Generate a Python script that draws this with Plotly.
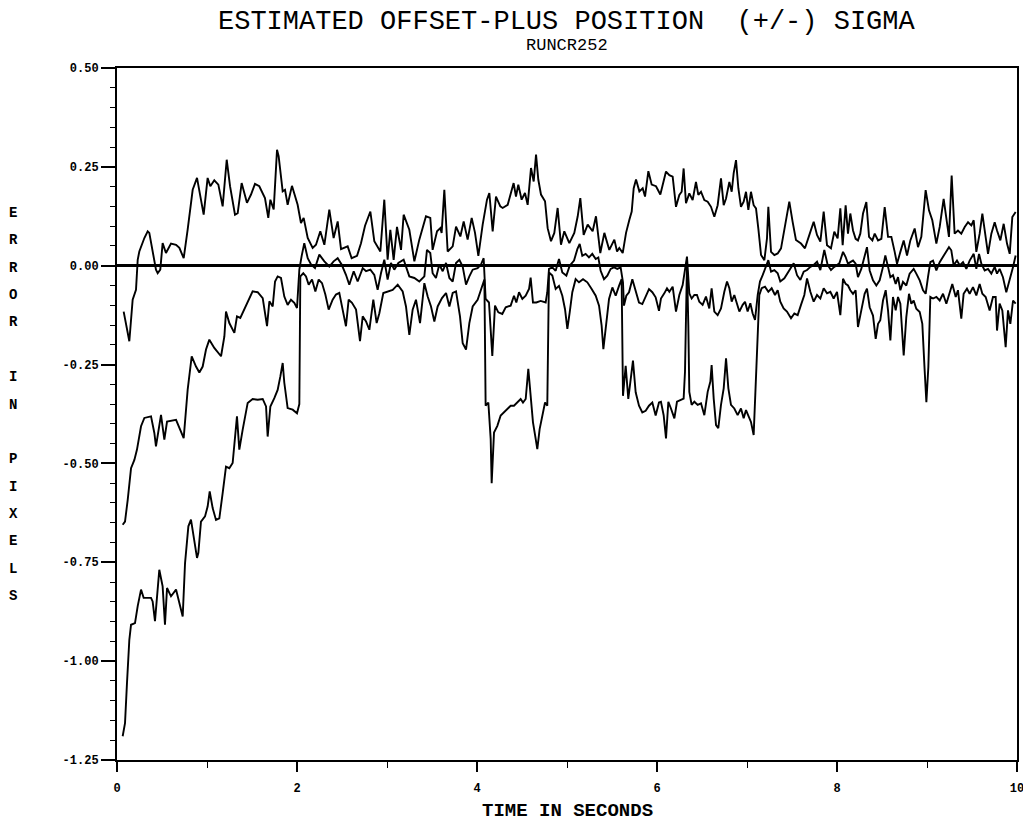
import plotly.graph_objects as go

# ---------------- data ----------------
t_upper = [0.074,0.137,0.174,0.211,0.230,0.248,0.304,0.341,0.359,0.396,0.433,0.452,0.481,0.507,0.544,0.600,0.656,0.693,0.741,0.785,
           0.841,0.889,0.926,0.963,1.007,1.037,1.081,1.126,1.174,1.219,1.256,1.311,1.341,1.385,1.444,1.489,1.533,1.581,1.644,1.681,
           1.704,1.741,1.778,1.796,1.841,1.867,1.896,1.944,2.007,2.044,2.074,2.119,2.174,2.211,2.259,2.304,2.359,2.407,2.452,2.489,
           2.563,2.607,2.667,2.711,2.756,2.815,2.859,2.926,2.970,3.007,3.037,3.074,3.111,3.156,3.185,3.248,3.304,3.359,3.433,3.481,
           3.507,3.556,3.593,3.607,3.637,3.674,3.730,3.767,3.815,3.852,3.896,3.941,3.978,4.015,4.063,4.111,4.137,4.174,4.211,4.259,
           4.285,4.341,4.407,4.433,4.459,4.496,4.533,4.563,4.600,4.630,4.656,4.681,4.711,4.756,4.785,4.822,4.859,4.896,4.933,4.970,
           5.026,5.081,5.119,5.148,5.185,5.230,5.285,5.322,5.370,5.415,5.470,5.526,5.556,5.581,5.619,5.656,5.693,5.719,5.741,5.767,
           5.804,5.841,5.867,5.904,5.941,5.989,6.037,6.100,6.137,6.174,6.211,6.248,6.274,6.296,6.322,6.359,6.396,6.433,6.459,6.489,
           6.526,6.563,6.600,6.637,6.674,6.711,6.741,6.767,6.804,6.830,6.852,6.878,6.904,6.933,6.963,6.989,7.015,7.044,7.074,7.100,
           7.126,7.156,7.193,7.222,7.237,7.267,7.304,7.341,7.378,7.422,7.470,7.507,7.544,7.600,7.644,7.693,7.741,7.778,7.815,7.852,
           7.889,7.933,7.970,8.007,8.037,8.063,8.096,8.122,8.148,8.178,8.207,8.233,8.259,8.289,8.326,8.356,8.393,8.419,8.456,8.493,
           8.530,8.567,8.604,8.641,8.667,8.704,8.741,8.778,8.815,8.863,8.900,8.937,8.985,9.022,9.059,9.104,9.141,9.185,9.215,9.244,
           9.274,9.307,9.344,9.381,9.419,9.456,9.493,9.519,9.548,9.585,9.615,9.641,9.678,9.715,9.752,9.778,9.815,9.852,9.889,9.919,
           9.948,9.985]
v_upper = [-0.116,-0.191,-0.086,-0.061,0.015,0.036,0.070,0.087,0.083,0.040,-0.010,-0.019,-0.010,0.057,0.032,0.056,0.053,0.045,0.019,0.091,
           0.192,0.222,0.175,0.129,0.222,0.201,0.216,0.205,0.150,0.268,0.201,0.129,0.133,0.209,0.159,0.180,0.207,0.201,0.171,0.121,
           0.167,0.142,0.293,0.277,0.188,0.192,0.154,0.202,0.154,0.108,0.121,0.070,0.045,0.053,0.087,0.053,0.142,0.070,0.112,0.042,
           0.049,0.019,0.025,0.057,0.101,0.137,0.062,0.036,0.167,0.015,0.091,0.015,0.098,0.040,0.129,0.091,0.011,0.066,0.125,0.121,
           0.040,0.087,0.095,0.083,0.192,0.036,0.049,0.099,0.074,0.112,0.066,0.121,0.083,0.025,0.104,0.167,0.184,0.087,0.175,0.150,
           0.146,0.154,0.209,0.175,0.205,0.167,0.184,0.154,0.247,0.213,0.281,0.218,0.180,0.163,0.095,0.062,0.083,0.146,0.053,0.087,
           0.057,0.083,0.125,0.171,0.078,0.104,0.087,0.125,0.032,0.083,0.040,0.066,0.036,0.045,0.032,0.083,0.116,0.137,0.196,0.218,
           0.188,0.196,0.175,0.239,0.205,0.201,0.180,0.238,0.229,0.225,0.149,0.179,0.187,0.246,0.158,0.183,0.166,0.212,0.179,0.187,
           0.166,0.162,0.149,0.124,0.153,0.221,0.153,0.170,0.212,0.187,0.234,0.267,0.196,0.149,0.162,0.187,0.141,0.187,0.153,0.145,
           0.094,0.027,0.014,0.069,0.149,0.035,0.027,0.031,0.044,0.103,0.162,0.111,0.065,0.056,0.044,0.078,0.111,0.078,0.061,0.137,
           0.052,0.044,0.086,0.069,0.145,0.052,0.153,0.081,0.132,0.089,0.068,0.064,0.081,0.132,0.161,0.073,0.064,0.081,0.064,0.068,
           0.148,0.073,0.073,0.035,0.005,0.035,0.064,0.026,0.064,0.094,0.047,0.073,0.191,0.140,0.115,0.056,0.098,0.169,0.115,0.073,
           0.228,0.081,0.089,0.081,0.098,0.110,0.102,0.115,0.035,0.081,0.132,0.089,0.030,0.081,0.110,0.089,0.064,0.106,0.056,0.030,
           0.123,0.136]

t_mid = [0.063,0.089,0.119,0.156,0.193,0.222,0.267,0.304,0.378,0.415,0.433,0.489,0.526,0.556,0.656,0.693,0.741,0.785,0.830,0.878,
         0.915,0.952,0.989,1.026,1.081,1.156,1.193,1.211,1.248,1.304,1.333,1.370,1.415,1.452,1.507,1.563,1.619,1.667,1.693,1.730,
         1.756,1.785,1.822,1.859,1.896,1.933,1.970,2.000,2.026,2.052,2.081,2.119,2.156,2.200,2.248,2.304,2.359,2.407,2.452,2.496,
         2.544,2.581,2.630,2.674,2.730,2.767,2.815,2.859,2.896,2.933,2.970,3.007,3.044,3.081,3.126,3.185,3.248,3.304,3.359,3.415,
         3.444,3.481,3.507,3.544,3.581,3.619,3.656,3.693,3.730,3.767,3.804,3.841,3.878,3.915,3.952,4.007,4.044,4.074,4.096,4.133,
         4.170,4.200,4.237,4.281,4.319,4.374,4.411,4.437,4.467,4.504,4.541,4.578,4.596,4.622,4.659,4.707,4.763,4.781,4.800,4.837,
         4.874,4.911,4.948,4.993,5.030,5.078,5.115,5.141,5.170,5.207,5.244,5.281,5.319,5.348,5.374,5.411,5.448,5.485,5.522,5.559,
         5.596,5.622,5.633,5.659,5.689,5.726,5.763,5.800,5.837,5.874,5.911,5.948,5.985,6.022,6.044,6.081,6.111,6.137,6.174,6.211,
         6.248,6.285,6.311,6.333,6.359,6.385,6.415,6.444,6.470,6.507,6.544,6.581,6.607,6.637,6.674,6.711,6.748,6.778,6.804,6.830,
         6.859,6.889,6.915,6.952,6.978,7.007,7.037,7.063,7.089,7.119,7.144,7.174,7.211,7.237,7.267,7.304,7.341,7.370,7.415,7.459,
         7.489,7.519,7.556,7.593,7.630,7.667,7.704,7.741,7.778,7.815,7.859,7.896,7.933,7.970,8.026,8.067,8.096,8.122,8.148,8.178,
         8.207,8.233,8.270,8.307,8.333,8.363,8.400,8.437,8.474,8.511,8.537,8.567,8.593,8.622,8.652,8.678,8.704,8.733,8.770,8.807,
         8.852,8.881,8.919,8.956,8.985,9.011,9.037,9.067,9.104,9.141,9.178,9.215,9.244,9.270,9.296,9.333,9.363,9.400,9.437,9.474,
         9.519,9.548,9.578,9.604,9.641,9.678,9.715,9.752,9.778,9.807,9.844,9.881,9.919,9.956,9.985]
v_mid = [-0.655,-0.647,-0.592,-0.512,-0.491,-0.465,-0.406,-0.385,-0.381,-0.423,-0.457,-0.377,-0.440,-0.394,-0.390,-0.411,-0.436,-0.314,-0.229,-0.255,
         -0.270,-0.255,-0.212,-0.187,-0.208,-0.229,-0.179,-0.116,-0.145,-0.170,-0.128,-0.132,-0.111,-0.094,-0.065,-0.067,-0.082,-0.153,-0.090,-0.103,
         -0.040,-0.027,-0.031,-0.078,-0.099,-0.086,-0.094,-0.107,-0.010,0.025,0.057,0.019,0.003,-0.006,0.028,0.011,-0.002,0.011,0.019,0.003,
         -0.023,-0.048,-0.014,-0.040,-0.006,-0.014,-0.010,-0.023,-0.061,-0.019,0.015,-0.035,0.007,-0.010,0.007,0.015,-0.027,-0.031,-0.040,-0.027,
         0.040,0.032,-0.019,-0.031,0.003,-0.014,0.007,-0.031,-0.040,0.007,0.015,-0.002,-0.048,-0.027,-0.010,-0.006,0.003,0.019,-0.084,-0.093,
         -0.228,-0.101,-0.118,-0.122,-0.105,-0.101,-0.076,-0.093,-0.067,-0.084,-0.076,-0.059,-0.030,-0.093,-0.093,-0.089,-0.093,-0.067,-0.008,-0.004,
         -0.013,0.017,-0.017,-0.025,0.000,0.013,0.042,0.055,0.025,0.030,0.021,0.030,0.017,0.021,-0.013,-0.034,-0.025,-0.008,-0.004,-0.008,
         -0.004,-0.042,-0.101,-0.076,-0.067,-0.034,-0.067,-0.093,-0.097,-0.076,-0.059,-0.067,-0.080,-0.114,-0.083,-0.070,-0.057,-0.066,-0.053,-0.116,
         -0.074,-0.049,-0.015,0.023,-0.070,-0.083,-0.074,-0.074,-0.091,-0.099,-0.078,-0.108,-0.057,-0.116,-0.125,-0.108,-0.066,-0.040,-0.057,-0.091,
         -0.074,-0.099,-0.116,-0.099,-0.091,-0.116,-0.095,-0.121,-0.137,-0.074,-0.040,-0.024,-0.003,0.014,-0.015,-0.011,-0.019,-0.040,-0.032,-0.015,
         -0.003,0.006,-0.024,-0.036,-0.015,-0.011,-0.003,0.002,0.010,-0.011,0.040,0.002,-0.011,-0.003,0.006,0.035,0.022,0.005,0.009,0.013,
         0.005,-0.029,-0.008,0.026,0.047,-0.012,-0.037,-0.050,-0.037,-0.003,0.026,-0.003,-0.029,-0.024,-0.046,-0.029,-0.062,-0.041,-0.050,-0.020,
         -0.008,-0.020,-0.037,-0.062,-0.071,-0.029,0.009,0.013,-0.012,0.009,0.022,0.035,0.047,0.039,0.001,0.013,0.001,0.009,-0.008,0.013,
         0.030,-0.008,0.030,0.005,-0.012,-0.008,-0.020,-0.003,-0.020,-0.008,-0.029,-0.067,-0.037,-0.003,0.026]

t_lower = [0.063,0.089,0.111,0.137,0.156,0.200,0.230,0.267,0.296,0.378,0.396,0.422,0.470,0.507,0.533,0.556,0.600,0.656,0.693,0.730,
           0.756,0.793,0.822,0.852,0.889,0.904,0.933,0.978,1.007,1.030,1.063,1.100,1.137,1.174,1.211,1.248,1.285,1.333,1.359,1.396,
           1.452,1.507,1.563,1.619,1.656,1.674,1.704,1.748,1.785,1.815,1.841,1.859,1.896,1.952,2.000,2.026,2.037,2.070,2.100,2.130,
           2.167,2.204,2.241,2.278,2.315,2.352,2.396,2.433,2.470,2.507,2.544,2.574,2.611,2.656,2.700,2.730,2.767,2.804,2.848,2.885,
           2.915,2.959,3.007,3.063,3.119,3.174,3.211,3.248,3.285,3.322,3.367,3.415,3.452,3.489,3.526,3.563,3.611,3.656,3.693,3.730,
           3.767,3.811,3.841,3.878,3.915,3.952,4.007,4.044,4.082,4.096,4.126,4.152,4.163,4.189,4.226,4.263,4.300,4.337,4.374,4.411,
           4.448,4.485,4.511,4.541,4.570,4.596,4.622,4.652,4.670,4.696,4.726,4.756,4.781,4.800,4.837,4.874,4.911,4.948,4.978,5.004,
           5.030,5.059,5.096,5.133,5.178,5.226,5.274,5.319,5.356,5.385,5.404,5.430,5.467,5.504,5.541,5.578,5.607,5.622,5.652,5.681,
           5.719,5.733,5.763,5.800,5.837,5.874,5.911,5.948,5.985,6.022,6.044,6.074,6.100,6.126,6.155,6.193,6.222,6.259,6.296,6.311,
           6.322,6.333,6.348,6.359,6.385,6.415,6.452,6.489,6.526,6.563,6.593,6.607,6.630,6.656,6.681,6.711,6.741,6.767,6.793,6.822,
           6.859,6.896,6.933,6.963,6.989,7.015,7.044,7.074,7.100,7.119,7.137,7.163,7.200,7.237,7.274,7.311,7.341,7.370,7.407,7.444,
           7.489,7.526,7.563,7.600,7.637,7.667,7.704,7.741,7.778,7.815,7.852,7.889,7.926,7.963,8.000,8.037,8.067,8.096,8.122,8.148,
           8.178,8.207,8.233,8.270,8.307,8.333,8.363,8.400,8.430,8.456,8.481,8.511,8.541,8.567,8.593,8.622,8.652,8.678,8.704,8.741,
           8.770,8.800,8.826,8.852,8.881,8.919,8.948,8.974,8.993,9.015,9.037,9.067,9.104,9.141,9.178,9.215,9.244,9.281,9.319,9.344,
           9.381,9.407,9.444,9.474,9.511,9.548,9.585,9.615,9.652,9.696,9.733,9.763,9.778,9.807,9.837,9.874,9.900,9.926,9.956,9.985]
v_lower = [-1.190,-1.157,-1.055,-0.946,-0.908,-0.904,-0.861,-0.819,-0.840,-0.840,-0.849,-0.899,-0.769,-0.811,-0.908,-0.815,-0.836,-0.819,-0.853,-0.887,
           -0.752,-0.659,-0.642,-0.684,-0.739,-0.726,-0.647,-0.634,-0.609,-0.571,-0.613,-0.643,-0.639,-0.575,-0.508,-0.512,-0.499,-0.381,-0.465,-0.415,
           -0.347,-0.337,-0.339,-0.337,-0.356,-0.432,-0.356,-0.335,-0.314,-0.280,-0.246,-0.296,-0.360,-0.364,-0.373,-0.350,-0.027,-0.019,-0.027,-0.048,
           -0.035,-0.065,-0.035,-0.044,-0.073,-0.111,-0.086,-0.073,-0.069,-0.111,-0.153,-0.086,-0.094,-0.111,-0.191,-0.128,-0.141,-0.162,-0.086,-0.145,
           -0.120,-0.069,-0.065,-0.061,-0.048,-0.065,-0.103,-0.175,-0.111,-0.086,-0.145,-0.044,-0.078,-0.103,-0.141,-0.103,-0.082,-0.069,-0.103,-0.069,
           -0.065,-0.128,-0.196,-0.212,-0.145,-0.103,-0.086,-0.061,-0.035,-0.354,-0.346,-0.438,-0.550,-0.422,-0.405,-0.379,-0.371,-0.363,-0.354,-0.354,
           -0.346,-0.337,-0.346,-0.337,-0.261,-0.320,-0.396,-0.438,-0.464,-0.413,-0.379,-0.346,-0.354,-0.017,-0.025,-0.059,-0.051,-0.076,-0.110,-0.160,
           -0.118,-0.067,-0.034,-0.042,-0.034,-0.042,-0.059,-0.076,-0.101,-0.152,-0.211,-0.152,-0.084,-0.055,-0.076,-0.051,-0.034,-0.329,-0.253,-0.337,
           -0.253,-0.240,-0.320,-0.354,-0.371,-0.367,-0.354,-0.346,-0.379,-0.346,-0.344,-0.378,-0.437,-0.344,-0.361,-0.386,-0.344,-0.340,-0.336,-0.268,
           -0.150,0.002,-0.150,-0.319,-0.352,-0.344,-0.352,-0.348,-0.378,-0.319,-0.293,-0.251,-0.336,-0.403,-0.411,-0.352,-0.310,-0.234,-0.310,-0.352,
           -0.361,-0.378,-0.361,-0.386,-0.365,-0.378,-0.395,-0.428,-0.268,-0.175,-0.074,-0.057,-0.053,-0.066,-0.057,-0.074,-0.062,-0.091,-0.108,-0.116,
           -0.133,-0.121,-0.125,-0.099,-0.074,-0.032,-0.066,-0.091,-0.074,-0.083,-0.057,-0.070,-0.066,-0.083,-0.066,-0.125,-0.033,-0.046,-0.050,-0.062,
           -0.071,-0.062,-0.155,-0.113,-0.071,-0.058,-0.105,-0.126,-0.185,-0.147,-0.138,-0.088,-0.062,-0.113,-0.189,-0.079,-0.113,-0.079,-0.096,-0.227,
           -0.130,-0.071,-0.096,-0.088,-0.109,-0.117,-0.147,-0.265,-0.345,-0.256,-0.079,-0.083,-0.079,-0.088,-0.071,-0.096,-0.071,-0.046,-0.079,-0.062,
           -0.134,-0.071,-0.058,-0.071,-0.054,-0.075,-0.046,-0.071,-0.079,-0.113,-0.079,-0.079,-0.164,-0.096,-0.113,-0.206,-0.113,-0.147,-0.088,-0.096]

y_tick_vals = [0.50, 0.25, 0.00, -0.25, -0.50, -0.75, -1.00, -1.25]
y_tick_text = ["0.50", "0.25", "0.00", "-0.25", "-0.50", "-0.75", "-1.00", "-1.25"]
x_tick_vals = [0, 2, 4, 6, 8, 10]
x_tick_text = ["0", "2", "4", "6", "8", "10"]

title_text = "ESTIMATED OFFSET-PLUS POSITION  (+/-) SIGMA"
subtitle_text = "RUNCR252"
x_title = "TIME IN SECONDS"
y_title = "ERROR IN PIXELS"

# ---------------- figure ----------------
MONO = "Liberation Mono"
line_style = dict(color="black", width=1.9)

fig = go.Figure()
for tx, vy, nm in [(t_upper, v_upper, "+ sigma"), (t_mid, v_mid, "estimate"), (t_lower, v_lower, "- sigma")]:
    fig.add_trace(go.Scatter(x=tx, y=vy, mode="lines", line=line_style, name=nm,
                             showlegend=False, hoverinfo="skip"))

# The page places the figure 8 px from the top-left corner (body margin).
OFF = 8
W, H = 1022, 816
PLOT_L, PLOT_R, PLOT_T, PLOT_B = 117, 1017, 68, 760   # target plot box in page pixels
L = PLOT_L - OFF
T = PLOT_T - OFF
R = W - (PLOT_R - OFF)
B = H - (PLOT_B - OFF)
plot_w, plot_h = PLOT_R - PLOT_L, PLOT_B - PLOT_T

def px_to_paper_x(px):
    return (px - PLOT_L) / plot_w

def px_to_paper_y(py):
    return (PLOT_B - py) / plot_h

annotations = [
    dict(text=title_text, x=px_to_paper_x(567), y=px_to_paper_y(22), xref="paper", yref="paper",
         showarrow=False, xanchor="center", yanchor="middle",
         font=dict(family=MONO, size=27, color="black")),
    dict(text=subtitle_text, x=px_to_paper_x(567), y=px_to_paper_y(45), xref="paper", yref="paper",
         showarrow=False, xanchor="center", yanchor="middle",
         font=dict(family=MONO, size=17, color="black")),
    dict(text=x_title, x=px_to_paper_x(567), y=px_to_paper_y(811), xref="paper", yref="paper",
         showarrow=False, xanchor="center", yanchor="middle",
         font=dict(family=MONO, size=19, color="black", weight="bold")),
]
# vertical stacked y-axis title letters
step = 27.36
for i, ch in enumerate(y_title):
    if ch == " ":
        continue
    annotations.append(dict(text=ch, x=px_to_paper_x(13), y=px_to_paper_y(213 + i * step),
                            xref="paper", yref="paper", showarrow=False,
                            xanchor="center", yanchor="middle",
                            font=dict(family=MONO, size=14, color="black", weight="bold")))

fig.update_layout(
    width=W, height=H,
    margin=dict(l=L, r=R, t=T, b=B, pad=0, autoexpand=False),
    paper_bgcolor="white", plot_bgcolor="white",
    annotations=annotations,
    showlegend=False,
    font=dict(family=MONO, color="black"),
)
fig.update_xaxes(range=[0, 10], tickvals=x_tick_vals, ticktext=x_tick_text, automargin=False,
                 ticks="outside", ticklen=10, tickwidth=1.5, tickcolor="black",
                 ticklabelstandoff=6, ticklabeloverflow="allow",
                 minor=dict(tickvals=[1, 3, 5, 7, 9], ticks="outside", ticklen=6, tickwidth=1.2, tickcolor="black"),
                 showline=True, linecolor="black", linewidth=2, mirror=True,
                 showgrid=False, zeroline=False,
                 tickfont=dict(family=MONO, size=12, color="black", weight="bold"))
fig.update_yaxes(range=[-1.25, 0.5], tickvals=y_tick_vals, ticktext=y_tick_text, automargin=False,
                 ticks="outside", ticklen=14, tickwidth=1.5, tickcolor="black",
                 minor=dict(dtick=0.05, ticks="outside", ticklen=5, tickwidth=1.2, tickcolor="black"),
                 showline=True, linecolor="black", linewidth=2, mirror=True,
                 showgrid=False, zeroline=True, zerolinecolor="black", zerolinewidth=2.5,
                 tickfont=dict(family=MONO, size=12, color="black", weight="bold"))

fig.write_html("out.html")
